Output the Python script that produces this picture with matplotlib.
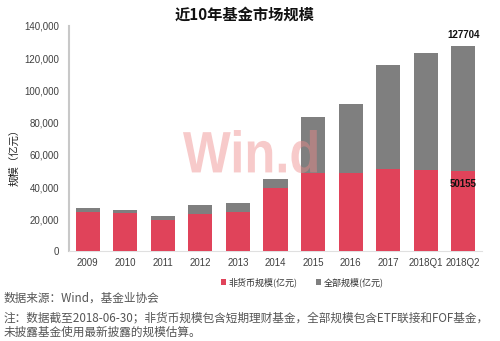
import matplotlib
matplotlib.use("Agg")
import matplotlib.pyplot as plt
from matplotlib.textpath import TextPath
from matplotlib.patches import PathPatch
from matplotlib.font_manager import FontProperties
from matplotlib.transforms import Affine2D, IdentityTransform
import numpy as np

plt.rcParams['font.family'] = ['Liberation Sans', 'Noto Sans CJK SC', 'DejaVu Sans']

categories = ['2009', '2010', '2011', '2012', '2013', '2014', '2015', '2016', '2017', '2018Q1', '2018Q2']
total_scale = [26800, 25600, 22000, 28700, 30100, 45000, 83700, 91400, 116000, 123000, 127704]
non_money_scale = [24300, 24100, 19600, 23100, 24700, 39600, 48900, 48900, 51200, 50800, 50155]
yticks = [0, 20000, 40000, 60000, 80000, 100000, 120000, 140000]

red = '#E0435A'
gray = '#7F7F7F'

fig = plt.figure(figsize=(5, 3.41), dpi=100)
ax = fig.add_axes([0.138, 0.2625, 0.826, 0.6613])

x = np.arange(len(categories))
w = 0.64
ax.bar(x, total_scale, width=w, color=gray, label='全部规模(亿元)', zorder=2)
ax.bar(x, non_money_scale, width=w, color=red, label='非货币规模(亿元)', zorder=3)

ax.set_xlim(-0.5, len(categories) - 0.5)
ax.set_ylim(0, 140000)
ax.set_yticks(yticks)
ax.set_yticklabels([f'{v:,}' for v in yticks])
ax.set_xticks(x)
ax.set_xticklabels(categories)
ax.tick_params(axis='both', length=0, labelsize=7, labelcolor='#404040')
ax.tick_params(axis='y', pad=7)
ax.tick_params(axis='x', pad=5)
for s in ['top', 'right']:
    ax.spines[s].set_visible(False)
ax.spines['left'].set_color('#C8C8C8')
ax.spines['left'].set_linewidth(1.5)
ax.spines['bottom'].set_color('#E0E0E0')
ax.spines['bottom'].set_linewidth(0.8)

# value labels for last bar
last = len(categories) - 1
ax.text(x[last], total_scale[last] + 3500, f'{total_scale[last]}', ha='center', va='bottom',
        fontsize=7, fontweight='bold', color='#111111', zorder=5)
ax.text(x[last], non_money_scale[last] - 8000, f'{non_money_scale[last]}', ha='center', va='center',
        fontsize=7, fontweight='bold', color='#111111', zorder=5)

ax.set_ylabel('规模（亿元）', family=['Noto Sans CJK SC', 'DejaVu Sans'], fontsize=7.5,
              color='#222222')
ax.yaxis.set_label_coords(-0.12, 0.43)

# legend
handles, labels = ax.get_legend_handles_labels()
leg = fig.legend([handles[1], handles[0]], [labels[1], labels[0]], loc='center',
                 bbox_to_anchor=(0.605, 0.173), ncol=2, frameon=False,
                 prop={'family': ['Noto Sans CJK SC', 'DejaVu Sans'], 'size': 6.5},
                 handlelength=0.6, handleheight=0.6, handletextpad=0.3, columnspacing=2.0)
for t in leg.get_texts():
    t.set_color('#333333')

# title
fig.text(0.49, 0.958, '近10年基金市场规模', ha='center', va='center', fontsize=11,
         fontweight='bold', family=['Noto Sans CJK SC', 'DejaVu Sans'], color='#111111')

# source and notes
cjk = ['Noto Sans CJK SC', 'DejaVu Sans']
fs_note = 8.4
fig.text(0.008, 1 - 298 / 341, '数据来源：Wind，基金业协会', ha='left', va='center',
         fontsize=fs_note, family=cjk, color='#555555')
fig.text(0.008, 1 - 318 / 341, '注：数据截至2018-06-30；非货币规模包含短期理财基金，全部规模包含ETF联接和FOF基金，',
         ha='left', va='center', fontsize=fs_note, family=cjk, color='#555555')
fig.text(0.008, 1 - 332 / 341, '未披露基金使用最新披露的规模估算。',
         ha='left', va='center', fontsize=fs_note, family=cjk, color='#555555')

# watermark
tp = TextPath((0, 0), 'Win.d', size=1, prop=FontProperties(family='Liberation Sans', weight='bold'))
ext = tp.get_extents()
x0, x1 = 183, 317
ytop, ybot = 130, 173
sx = (x1 - x0) / ext.width
sy = (ybot - ytop) / ext.height
tr = Affine2D().translate(-ext.x0, -ext.y0).scale(sx, sy).translate(x0, 341 - ybot)
patch = PathPatch(tr.transform_path(tp), transform=IdentityTransform(), facecolor='#EE8A8A',
                  edgecolor='none', alpha=0.45, zorder=10)
fig.add_artist(patch)

fig.savefig('out.png', dpi=100)
